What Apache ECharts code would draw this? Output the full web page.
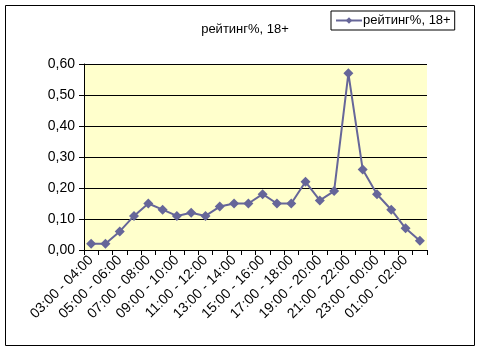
<!DOCTYPE html>
<html>
<head>
<meta charset="utf-8">
<script src="https://cdn.jsdelivr.net/npm/echarts@6/dist/echarts.min.js"></script>
<style>
html,body{margin:0;padding:0;background:#fff;}
#c{width:482px;height:353px;}
</style>
</head>
<body>
<div id="c"></div>
<script>
var categories = ["03:00 - 04:00","04:00 - 05:00","05:00 - 06:00","06:00 - 07:00","07:00 - 08:00","08:00 - 09:00","09:00 - 10:00","10:00 - 11:00","11:00 - 12:00","12:00 - 13:00","13:00 - 14:00","14:00 - 15:00","15:00 - 16:00","16:00 - 17:00","17:00 - 18:00","18:00 - 19:00","19:00 - 20:00","20:00 - 21:00","21:00 - 22:00","22:00 - 23:00","23:00 - 00:00","00:00 - 01:00","01:00 - 02:00","02:00 - 03:00"];
var ratings = [0.02,0.02,0.06,0.11,0.15,0.13,0.11,0.12,0.11,0.14,0.15,0.15,0.18,0.15,0.15,0.22,0.16,0.19,0.57,0.26,0.18,0.13,0.07,0.03];
var seriesName = "рейтинг%, 18+";
var titleText = "рейтинг%, 18+";

var chart = echarts.init(document.getElementById('c'), null, {renderer:'canvas'});
var font = 'Liberation Sans, Arial, sans-serif';
chart.setOption({
  animation:false,
  backgroundColor:'#fff',
  textStyle:{fontFamily:font},
  graphic:[{type:'rect',shape:{x:5.5,y:5.5,width:469,height:340},style:{fill:'none',stroke:'#000',lineWidth:1},z:-1,silent:true}],
  title:{text:titleText,left:240,top:18,textAlign:'center',textStyle:{fontSize:13,fontWeight:'normal',color:'#000',fontFamily:font}},
  legend:{
    data:[seriesName],left:331,top:11,
    borderColor:'#000',borderWidth:1,padding:[3,4,3,4],
    itemWidth:26,itemHeight:8,itemGap:0,
    textStyle:{fontSize:13,color:'#000',fontFamily:font,padding:[0,0,0,-4]}
  },
  grid:{left:84,right:55,top:64,bottom:103,show:true,backgroundColor:'#FFFFCC',borderWidth:0,containLabel:false},
  xAxis:{
    type:'category',data:categories,boundaryGap:true,
    axisLine:{lineStyle:{color:'#000',width:1}},
    axisTick:{show:true,interval:0,length:5,lineStyle:{color:'#000'}},
    axisLabel:{interval:1,rotate:45,fontSize:14,color:'#000',fontFamily:font,margin:8}
  },
  yAxis:{
    type:'value',min:0,max:0.6,interval:0.1,
    axisLine:{show:true,lineStyle:{color:'#000',width:1}},
    axisTick:{show:true,length:5,lineStyle:{color:'#000'}},
    splitLine:{show:true,lineStyle:{color:'#000',width:1}},
    axisLabel:{fontSize:14,color:'#000',fontFamily:font,margin:9,formatter:function(v){return v.toFixed(2).replace('.',',');}}
  },
  series:[{
    name:seriesName,type:'line',data:ratings,
    symbol:'diamond',symbolSize:10,showSymbol:true,showAllSymbol:true,
    lineStyle:{color:'#666699',width:2},
    itemStyle:{color:'#666699'}
  }]
});
</script>
</body>
</html>
